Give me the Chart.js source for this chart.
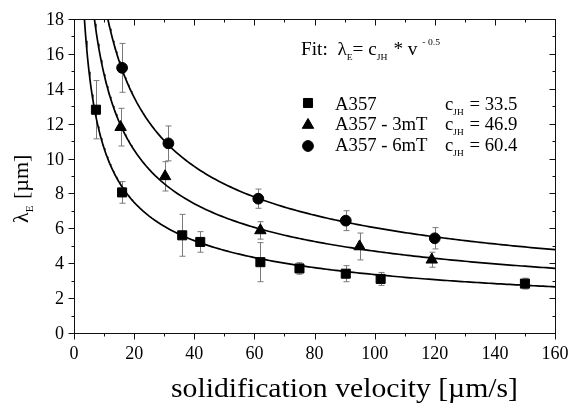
<!DOCTYPE html>
<html>
<head>
<meta charset="utf-8">
<style>
  html, body { margin: 0; padding: 0; background: #fff; }
  #wrap { width: 571px; height: 405px; }
</style>
<script src="https://cdn.jsdelivr.net/npm/chart.js@4/dist/chart.umd.min.js"></script>
</head>
<body>
<div id="wrap"><canvas id="chart" width="571" height="405"></canvas></div>
<script>
// Measured eutectic spacing vs. solidification velocity
const velocityA357 = [7.3, 16, 36, 42, 62, 75, 90.4, 102, 150];
const lambdaA357   = [12.8, 8.06, 5.6, 5.22, 4.06, 3.7, 3.4, 3.1, 2.83];
const errorA357    = [1.67, 0.62, 1.2, 0.59, 1.12, 0.33, 0.46, 0.37, 0.31];

const velocity3mT = [15.5, 30.3, 62, 95, 119];
const lambda3mT   = [11.8, 8.98, 5.88, 4.96, 4.2];
const error3mT    = [1.08, 0.84, 0.5, 0.77, 0.43];

const velocity6mT = [16, 31.4, 61.3, 90.4, 120];
const lambda6mT   = [15.2, 10.87, 7.7, 6.44, 5.43];
const error6mT    = [1.4, 1.0, 0.55, 0.57, 0.61];

// Jackson-Hunt fit coefficients: lambda = c * v^-0.5
const seriesNames = ['A357', 'A357 - 3mT', 'A357 - 6mT'];
const fitCoefficients = [33.5, 46.9, 60.4];
const fitExponent = -0.5;

// Velocity samples along which each fitted curve is evaluated
const fitVelocities = [];
for (let v = 2; v <= 160; v += (v < 20 ? 0.25 : 1)) fitVelocities.push(v);

const xTicksMajor = [0, 20, 40, 60, 80, 100, 120, 140, 160];
const yTicksMajor = [0, 2, 4, 6, 8, 10, 12, 14, 16, 18];

const FONT = "'Liberation Serif', 'Times New Roman', serif";
Chart.defaults.font.family = FONT;
Chart.defaults.color = '#000';

const markerStyles = ['rect', 'triangle', 'circle'];
const markerRadius = [6.4, 6.6, 5.4];

const toPoints = (xs, ys) => xs.map((x, i) => ({ x: x, y: ys[i] }));
const fitCurve = c => fitVelocities.map(v => ({ x: v, y: c * Math.pow(v, fitExponent) }));

const pointSets = [
  { xs: velocityA357, ys: lambdaA357, err: errorA357 },
  { xs: velocity3mT,  ys: lambda3mT,  err: error3mT },
  { xs: velocity6mT,  ys: lambda6mT,  err: error6mT }
];

const datasets = [];
fitCoefficients.forEach((c, i) => {
  datasets.push({
    label: 'fit ' + seriesNames[i],
    data: fitCurve(c),
    showLine: true,
    borderColor: '#000',
    borderWidth: 1.7,
    pointRadius: 0,
    tension: 0,
    order: 2
  });
});
pointSets.forEach((s, i) => {
  datasets.push({
    label: seriesNames[i],
    data: toPoints(s.xs, s.ys),
    errors: s.err,
    showLine: false,
    pointStyle: markerStyles[i],
    pointRadius: markerRadius[i],
    pointBackgroundColor: '#000',
    pointBorderColor: '#000',
    pointBorderWidth: 1,
    order: 1
  });
});

// Vertical error bars with caps, drawn under the markers
const errorBars = {
  id: 'errorBars',
  beforeDatasetsDraw(chart) {
    const { ctx, scales: { x, y } } = chart;
    ctx.save();
    ctx.strokeStyle = '#7a7a7a';
    ctx.lineWidth = 1;
    chart.data.datasets.forEach(ds => {
      if (!ds.errors) return;
      ds.data.forEach((p, i) => {
        const e = ds.errors[i];
        const px = Math.round(x.getPixelForValue(p.x)) + 0.5;
        const top = y.getPixelForValue(p.y + e);
        const bot = y.getPixelForValue(p.y - e);
        ctx.beginPath();
        ctx.moveTo(px, top); ctx.lineTo(px, bot);
        ctx.moveTo(px - 3, top); ctx.lineTo(px + 3, top);
        ctx.moveTo(px - 3, bot); ctx.lineTo(px + 3, bot);
        ctx.stroke();
      });
    });
    ctx.restore();
  }
};

// Boxed frame, tick marks (outward bottom/left, inward top/right) and tick labels
const frameTicks = {
  id: 'frameTicks',
  afterDraw(chart) {
    const { ctx, chartArea: a, scales: { x, y } } = chart;
    ctx.save();
    ctx.strokeStyle = '#111';
    ctx.lineWidth = 1;
    const L = Math.round(a.left) + 0.5, R = Math.round(a.right) + 0.5;
    const T = Math.round(a.top) + 0.5, B = Math.round(a.bottom) + 0.5;
    ctx.strokeRect(L, T, R - L, B - T);
    ctx.beginPath();
    const xStep = xTicksMajor[1] - xTicksMajor[0];
    for (let v = xTicksMajor[0]; v <= xTicksMajor[xTicksMajor.length - 1]; v += xStep / 2) {
      const major = xTicksMajor.includes(v);
      const len = major ? 6 : 3;
      const px = Math.round(x.getPixelForValue(v)) + 0.5;
      ctx.moveTo(px, B); ctx.lineTo(px, B + len);
      ctx.moveTo(px, T); ctx.lineTo(px, T + len);
    }
    const yStep = yTicksMajor[1] - yTicksMajor[0];
    for (let v = yTicksMajor[0]; v <= yTicksMajor[yTicksMajor.length - 1]; v += yStep / 2) {
      const major = yTicksMajor.includes(v);
      const len = major ? 6 : 3;
      const py = Math.round(y.getPixelForValue(v)) + 0.5;
      ctx.moveTo(L, py); ctx.lineTo(L - len, py);
      ctx.moveTo(R, py); ctx.lineTo(R - len, py);
    }
    ctx.stroke();

    // tick labels, placed from the scales' own tick values
    ctx.fillStyle = '#000';
    ctx.font = '18px ' + FONT;
    ctx.textBaseline = 'alphabetic';
    ctx.textAlign = 'center';
    x.ticks.forEach(t => {
      ctx.fillText(String(t.value), x.getPixelForValue(t.value), 359);
    });
    ctx.textAlign = 'right';
    y.ticks.forEach(t => {
      ctx.fillText(String(t.value), 64, y.getPixelForValue(t.value) + 6);
    });
    ctx.restore();
  }
};

// Draws text pieces left to right, horizontally widened by sx
function drawRuns(ctx, x, y, runs, sx) {
  sx = sx || 1;
  ctx.save();
  ctx.translate(x, y);
  ctx.scale(sx, 1);
  let cx = 0;
  runs.forEach(r => {
    ctx.font = r.size + 'px ' + FONT;
    ctx.fillText(r.text, cx, r.dy || 0);
    cx += ctx.measureText(r.text).width + (r.gap || 0);
  });
  ctx.restore();
  return x + cx * sx;
}

const TEXT_SX = 1.04;

// Axis titles, fit formula and marker key
const annotations = {
  id: 'annotations',
  afterDraw(chart) {
    const { ctx } = chart;
    ctx.save();
    ctx.fillStyle = '#000';
    ctx.textBaseline = 'alphabetic';
    ctx.textAlign = 'left';

    // x axis title, spanning 172..518
    const xTitle = 'solidification velocity [\u00B5m/s]';
    ctx.font = '28px ' + FONT;
    const w = ctx.measureText(xTitle).width;
    drawRuns(ctx, 171, 397, [{ text: xTitle, size: 28 }], 347 / w);

    // y axis title, rotated
    ctx.save();
    ctx.translate(28, 223);
    ctx.rotate(-Math.PI / 2);
    drawRuns(ctx, 0, 0, [
      { text: '\u03BB', size: 22 },
      { text: 'E', size: 11, dy: 5, gap: 1 },
      { text: ' [\u00B5m]', size: 22 }
    ]);
    ctx.restore();

    // fit formula
    drawRuns(ctx, 301, 55, [
      { text: 'Fit:  ', size: 18 },
      { text: '\u03BB', size: 18 },
      { text: 'E', size: 9, dy: 5 },
      { text: '= c', size: 18 },
      { text: 'JH', size: 9, dy: 5, gap: 1 },
      { text: ' * v ', size: 18 },
      { text: '- 0.5', size: 9, dy: -10 }
    ], 1.07);

    // marker key
    const rowY = [110, 130, 151];
    const markerY = [103, 125, 146];
    rowY.forEach((yy, i) => {
      ctx.fillStyle = '#000';
      ctx.strokeStyle = '#000';
      Chart.helpers.drawPoint(ctx, {
        pointStyle: markerStyles[i],
        radius: markerRadius[i],
        borderWidth: 1
      }, 308, markerY[i]);
      drawRuns(ctx, 335, yy, [{ text: seriesNames[i], size: 18 }], TEXT_SX);
      drawRuns(ctx, 445, yy, [
        { text: 'c', size: 18 },
        { text: 'JH', size: 9, dy: 5, gap: 1 },
        { text: ' = ' + fitCoefficients[i].toFixed(1), size: 18 }
      ], TEXT_SX);
    });
    ctx.restore();
  }
};

new Chart(document.getElementById('chart'), {
  type: 'scatter',
  data: { datasets: datasets },
  options: {
    responsive: false,
    devicePixelRatio: 1,
    animation: false,
    layout: { padding: { top: 19, right: 16, left: 0, bottom: 0 } },
    plugins: { legend: { display: false }, tooltip: { enabled: false } },
    scales: {
      x: {
        type: 'linear',
        min: 0, max: 160,
        afterBuildTicks(scale) { scale.ticks = xTicksMajor.map(v => ({ value: v })); },
        afterFit(scale) { scale.height = 72; },
        grid: { display: false, drawTicks: false },
        border: { display: false },
        ticks: { display: false }
      },
      y: {
        type: 'linear',
        min: 0, max: 18,
        afterBuildTicks(scale) { scale.ticks = yTicksMajor.map(v => ({ value: v })); },
        afterFit(scale) { scale.width = 74; },
        grid: { display: false, drawTicks: false },
        border: { display: false },
        ticks: { display: false }
      }
    }
  },
  plugins: [errorBars, frameTicks, annotations]
});
</script>
</body>
</html>
